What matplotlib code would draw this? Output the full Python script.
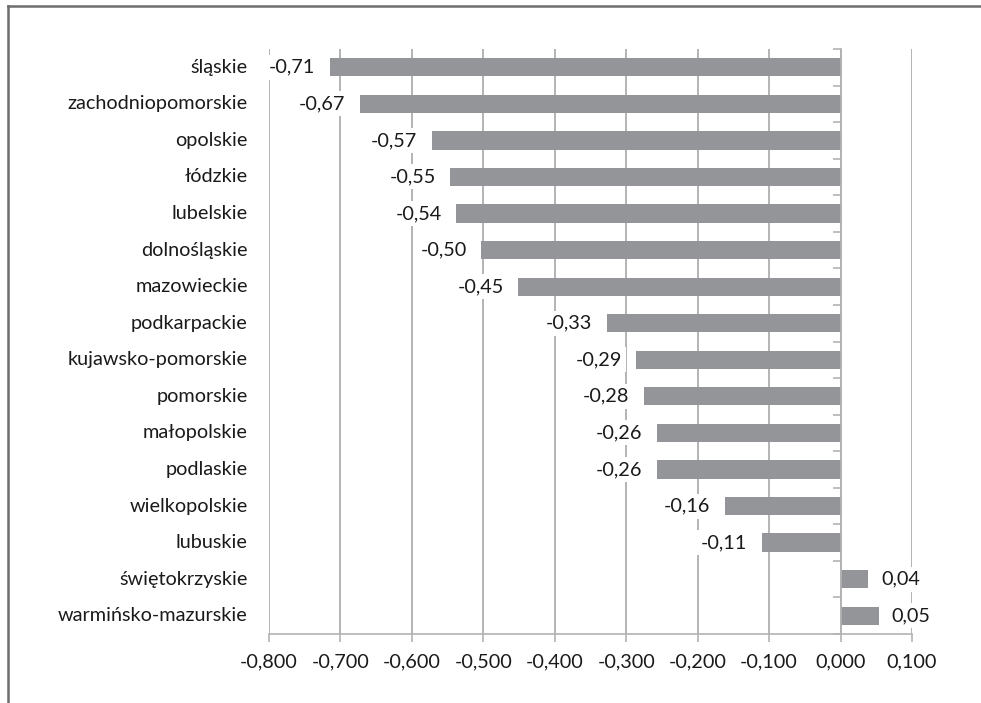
import matplotlib
matplotlib.use("Agg")
import matplotlib.pyplot as plt
import matplotlib.transforms as mtransforms
from matplotlib.ticker import FixedLocator, FuncFormatter

plt.rcParams['font.family'] = ['Lato', 'DejaVu Sans']

categories = ["śląskie", "zachodniopomorskie", "opolskie", "łódzkie", "lubelskie",
              "dolnośląskie", "mazowieckie", "podkarpackie", "kujawsko-pomorskie",
              "pomorskie", "małopolskie", "podlaskie", "wielkopolskie", "lubuskie",
              "świętokrzyskie", "warmińsko-mazurskie"]
values = [-0.715, -0.673, -0.572, -0.546, -0.538, -0.503, -0.451, -0.327, -0.286,
          -0.275, -0.257, -0.257, -0.162, -0.110, 0.039, 0.054]
xticks = [-0.8, -0.7, -0.6, -0.5, -0.4, -0.3, -0.2, -0.1, 0.0, 0.1]

W, H = 981, 703
fig = plt.figure(figsize=(W / 100, H / 100), dpi=100)
ax = fig.add_axes([269 / W, 1 - 634 / H, (912 - 269) / W, (634 - 49) / H])

n = len(categories)
ypos = list(range(n))
grid_c = '#b3b3b3'
bar_c = '#939598'
txt_c = '#1a1a1a'
fs = 14.3

ax.barh(ypos, values, height=0.5, color=bar_c, zorder=2)
ax.set_xlim(-0.8, 0.1)
ax.set_ylim(n - 0.5, -0.5)

ax.set_xticks(xticks)
ax.xaxis.set_major_formatter(FuncFormatter(lambda v, p: f"{v:.3f}".replace('.', ',').replace('-0,000', '0,000')))
ax.tick_params(axis='x', direction='out', length=6, width=1.2, color=grid_c,
               labelsize=fs, labelcolor=txt_c, pad=8)
ax.grid(axis='x', color=grid_c, linewidth=1.4, zorder=0)
ax.grid(axis='y', visible=False)

for s in ['top', 'right']:
    ax.spines[s].set_visible(False)
ax.spines['bottom'].set_color(grid_c)
ax.spines['bottom'].set_linewidth(1.2)
ax.spines['left'].set_position(('data', 0))
ax.spines['left'].set_color(grid_c)
ax.spines['left'].set_linewidth(1.2)
ax.set_axisbelow(True)

ax.yaxis.set_major_locator(FixedLocator(ypos))
ax.yaxis.set_major_formatter(FuncFormatter(lambda v, p: ''))
ax.yaxis.set_minor_locator(FixedLocator([y - 0.5 for y in ypos] + [n - 0.5]))
ax.tick_params(axis='y', which='major', length=0)
ax.tick_params(axis='y', which='minor', direction='out', length=6, width=1.2, color=grid_c)

trans = mtransforms.blended_transform_factory(ax.transAxes, ax.transData)
for y, c in zip(ypos, categories):
    ax.text(-0.033, y, c, transform=trans, ha='right', va='center', fontsize=fs, color=txt_c)

for y, v in zip(ypos, values):
    lab = f"{v:.2f}".replace('.', ',')
    if v < 0:
        ax.annotate(lab, (v, y), xytext=(-10.5, 0), textcoords='offset points', ha='right', va='center',
                    fontsize=fs, color=txt_c, zorder=3,
                    bbox=dict(boxstyle='square,pad=0.2', fc='white', ec='none'))
    else:
        ax.annotate(lab, (v, y), xytext=(9, 0), textcoords='offset points', ha='left', va='center',
                    fontsize=fs, color=txt_c, zorder=3,
                    bbox=dict(boxstyle='square,pad=0.2', fc='white', ec='none'))

# outer frame (top and left edges)
fig.add_artist(plt.Line2D([8 / W, 1], [1 - 6 / H, 1 - 6 / H], transform=fig.transFigure, color='#6d6d6d', lw=1.8))
fig.add_artist(plt.Line2D([8 / W, 8 / W], [0, 1 - 6 / H], transform=fig.transFigure, color='#6d6d6d', lw=1.8))

fig.savefig("out.png", dpi=100)
